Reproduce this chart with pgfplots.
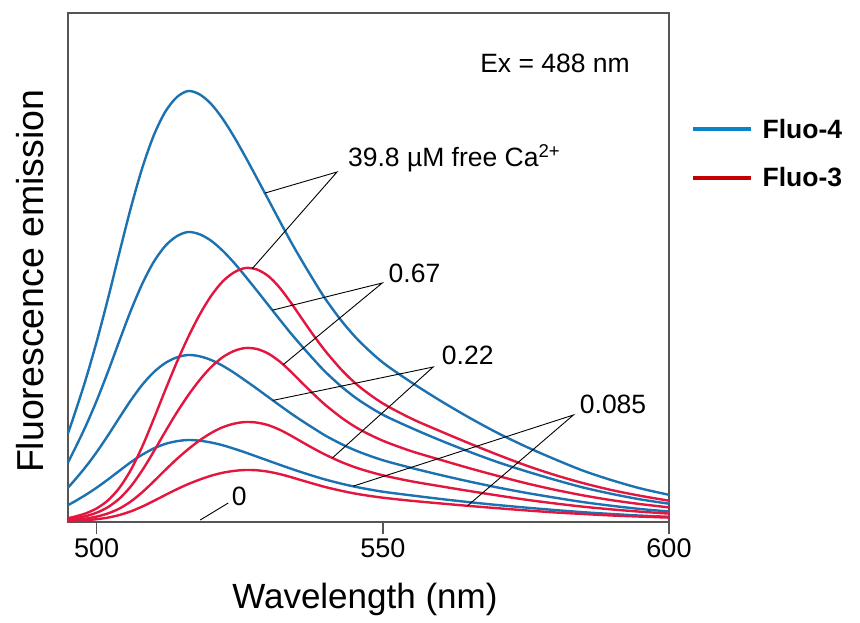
\documentclass[border=0pt]{standalone}
\usepackage{fontspec}
\setmainfont{Liberation Sans}
\usepackage{pgfplots}
\usepackage{pgfplotstable}
\pgfplotsset{compat=1.18}

\definecolor{fluofour}{RGB}{28,114,176}
\definecolor{fluothree}{RGB}{226,22,62}
\definecolor{legfour}{RGB}{10,132,200}
\definecolor{legthree}{RGB}{196,0,0}
\definecolor{framegray}{RGB}{85,85,85}

% Fluo-4 emission spectra (Ex = 488 nm) at 39.8, 0.67, 0.22, 0.085 uM free Ca2+
\pgfplotstableread{
lam  b1     b2     b3     b4
495  88.8   59.7   34.4   16.9
496  105.4  70.9   40.8   20.0
498  140.7  94.7   54.5   26.8
500  180.2  121.2  69.8   34.3
502  223.7  150.5  86.7   42.6
504  269.8  181.5  104.5  51.3
506  314.6  211.7  121.9  59.9
508  354.5  238.5  137.4  67.4
510  386.8  260.3  149.9  73.6
512  410.3  276.1  159.0  78.1
514  424.8  285.8  164.6  80.8
516  431.0  290.0  167.0  82.0
518  427.6  287.7  165.7  81.3
520  418.1  281.3  162.0  79.5
522  403.4  271.4  156.3  76.8
524  385.3  259.3  149.3  73.3
526  365.1  245.6  141.4  69.5
528  343.9  231.4  133.3  65.4
530  322.4  216.9  124.9  61.3
532  300.8  202.4  116.6  57.2
534  279.7  188.2  108.4  53.2
536  259.9  174.9  100.7  49.4
538  240.9  162.1  93.4   45.8
540  222.8  149.9  86.3   42.4
543  199.6  134.3  77.3   38.0
546  180.2  121.2  69.8   34.3
550  159.5  107.3  61.8   30.3
555  139.6  94.0   54.1   26.6
560  121.5  81.8   47.1   23.1
565  104.7  70.5   40.6   19.9
570  89.2   60.0   34.6   17.0
575  75.4   50.8   29.2   14.4
580  62.9   42.3   24.4   12.0
585  51.3   34.5   19.9   9.8
590  41.8   28.1   16.2   8.0
595  33.6   22.6   13.0   6.4
600  27.2   18.3   10.5   5.2
}\fluofourdata

% Fluo-3 emission spectra at the same free Ca2+ levels
\pgfplotstableread{
lam  r1     r2     r3     r4
495  3.8    2.6    1.5    0.8
496  5.1    3.5    2.0    1.0
498  8.4    5.7    3.3    1.7
500  13.6   9.3    5.4    2.8
502  21.7   14.9   8.6    4.4
504  34.3   23.5   13.5   7.0
506  52.3   35.8   20.6   10.7
508  75.8   51.9   29.9   15.5
510  103.3  70.7   40.7   21.1
512  132.0  90.4   52.0   27.0
514  159.6  109.4  62.9   32.7
516  184.9  126.7  72.8   37.9
518  207.3  142.0  81.6   42.4
520  226.1  154.9  89.0   46.3
522  240.4  164.7  94.7   49.2
524  249.6  171.0  98.3   51.1
526  254.0  174.0  100.0  52.0
528  252.5  173.0  99.4   51.7
530  245.9  168.4  96.8   50.3
532  234.2  160.4  92.2   47.9
534  218.9  150.0  86.2   44.8
536  202.2  138.5  79.6   41.4
538  185.9  127.4  73.2   38.1
540  170.7  116.9  67.2   34.9
543  150.9  103.4  59.4   30.9
546  134.9  92.4   53.1   27.6
550  118.6  81.3   46.7   24.3
555  103.4  70.8   40.7   21.2
560  90.9   62.3   35.8   18.6
565  78.9   54.0   31.1   16.1
570  67.4   46.2   26.6   13.8
575  56.6   38.8   22.3   11.6
580  47.1   32.3   18.6   9.6
585  38.9   26.6   15.3   8.0
590  31.9   21.8   12.6   6.5
595  26.2   17.9   10.3   5.4
600  21.3   14.6   8.4    4.4
}\fluothreedata

\begin{document}
\begin{tikzpicture}
\useasboundingbox (-68bp,-101bp) rectangle (792bp,522bp);
\begin{axis}[
  at={(0,0)}, anchor=south west,
  scale only axis, width=601bp, height=509bp,
  xmin=495, xmax=600, ymin=0, ymax=509,
  axis line style={framegray, line width=1.6bp},
  xtick={500,550,600}, ytick=\empty,
  xtick pos=lower, tick align=outside,
  major tick length=12bp,
  every tick/.style={framegray, line width=1.4bp},
  /pgf/number format/assume math mode=true,
  xticklabel style={font=\fontsize{27bp}{32bp}\selectfont, inner sep=4bp},
  xlabel={Wavelength (nm)},
  ylabel={Fluorescence emission},
  xlabel style={font=\fontsize{35bp}{40bp}\selectfont, at={(axis description cs:0.494,-0.169)}, anchor=base},
  ylabel style={font=\fontsize{37.5bp}{42bp}\selectfont, at={(axis description cs:-0.0416,0.473)}, anchor=base},
  clip=false,
  legend style={at={(axis description cs:1.032,0.80)}, anchor=north west,
    draw=none, fill=none, row sep=24bp,
    font=\bfseries\fontsize{26.5bp}{30bp}\selectfont,
    nodes={inner sep=2bp}},
  legend cell align=left,
  legend image code/.code={\draw[#1, line width=4bp] (0bp,0bp) -- (58bp,0bp); \path (66bp,0bp);},
  every axis plot/.append style={line width=2.4bp, smooth},
]
\addlegendimage{legfour}
\addlegendentry{Fluo-4}
\addlegendimage{legthree}
\addlegendentry{Fluo-3}

\foreach \c in {b1,b2,b3,b4}{
  \addplot[fluofour, forget plot] table[x=lam, y=\c] {\fluofourdata};
}
\foreach \c in {r1,r2,r3,r4}{
  \addplot[fluothree, forget plot] table[x=lam, y=\c] {\fluothreedata};
}

% leader lines from each Ca2+ label to its pair of spectra
\begin{scope}[black, line width=0.9bp]
\draw (axis cs:529.4,328.9) -- (axis cs:542.0,350.0) -- (axis cs:527.2,253.4);
\draw (axis cs:530.7,211.8) -- (axis cs:549.9,239.0) -- (axis cs:532.6,157.3);
\draw (axis cs:530.8,121.6) -- (axis cs:558.8,155.0) -- (axis cs:541.2,64.1);
\draw (axis cs:544.8,35.8) -- (axis cs:583.3,107.0) -- (axis cs:564.8,16.2);
\draw (axis cs:518.1,2.0) -- (axis cs:523.0,19.0);
\end{scope}

\begin{scope}[every node/.style={font=\fontsize{26.5bp}{31bp}\selectfont, inner sep=0pt, anchor=base west}]
\node at (axis cs:543.9,355.3) {39.8 µM free Ca\textsuperscript{2+}};
\node at (axis cs:551.0,239.0) {0.67};
\node at (axis cs:560.3,157.7) {0.22};
\node at (axis cs:584.4,108.0) {0.085};
\node at (axis cs:523.6,17.0) {0};
\node at (axis cs:567.0,449.3) {Ex = 488 nm};
\end{scope}
\end{axis}
\end{tikzpicture}
\end{document}
